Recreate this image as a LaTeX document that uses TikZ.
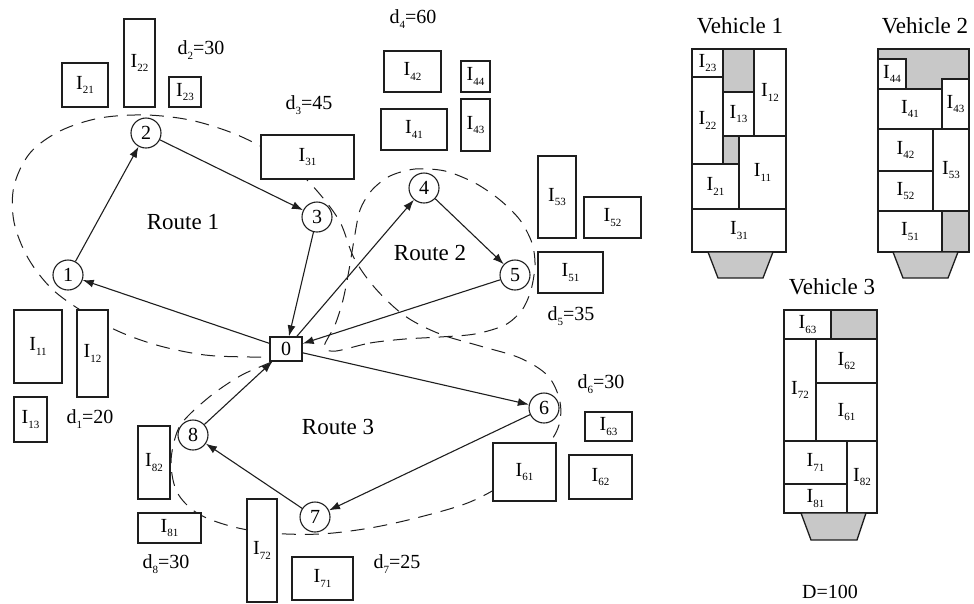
\documentclass[tikz,border=0pt]{standalone}
\usepackage{fontspec}
\setmainfont{Liberation Serif}
\usetikzlibrary{arrows.meta, fit}
\definecolor{cargo}{RGB}{200,200,200}
\definecolor{ink}{RGB}{30,30,30}
\newcommand{\itm}[1]{I\raisebox{-0.5ex}{\fontsize{11}{11}\selectfont #1}}
\newcommand{\dem}[2]{d\raisebox{-0.5ex}{\fontsize{11}{11}\selectfont #1}=#2}
\tikzset{
  cust/.style={circle, draw=ink, line width=1.1pt, fill=white, minimum size=30pt,
               inner sep=0pt, font=\fontsize{20}{20}\selectfont},
  depot/.style={rectangle, draw=ink, line width=1.3pt, fill=white, minimum width=32pt,
                minimum height=24pt, inner sep=0pt, font=\fontsize{20}{20}\selectfont},
  item/.style={rectangle, draw=ink, line width=1.3pt, fill=white, inner sep=0pt},
  every label/.style={font=\fontsize{20}{20}\selectfont, inner sep=0pt},
  arrow/.style={-{Latex[length=11pt,width=8pt]}, line width=1.1pt, color=ink},
  route/.style={draw=ink, line width=1pt, dash pattern=on 14pt off 9pt},
  title/.style={font=\fontsize{23}{23}\selectfont},
  demand/.style={font=\fontsize{20}{20}\selectfont},
}

\begin{document}
\begin{tikzpicture}[x=1pt, y=-1pt]
  \useasboundingbox (0,0) rectangle (974,603);

  % route outlines
  \draw[route] plot[smooth, tension=0.55] coordinates {(284,357) (250,357) (205,355) (160,346)
    (120,332) (85,313) (52,289) (28,258) (14,222) (14,186) (30,153) (60,131) (100,118) (146,115)
    (190,120) (230,132) (262,147) (292,166) (318,192) (340,222) (354,258) (375,288) (405,316)
    (440,334) (480,346) (520,358) (548,376) (560,402) (558,428) (540,455) (510,480) (470,502)
    (420,517) (370,528) (320,534) (270,533) (230,526) (197,513) (177,492) (171,462) (177,432)
    (188,416) (213,394) (240,376) (262,366) (284,357)};
  \draw[route] plot[smooth cycle, tension=0.5] coordinates {(336,351) (370,343) (405,339)
    (440,337) (475,334) (505,325) (522,310) (531,290) (535,265) (532,243) (520,220) (500,200)
    (475,183) (445,171) (415,169) (390,176) (372,190) (360,210) (354,240) (349,270) (343,300)
    (335,325) (324,347)};

  % items waiting at the customers
  \node[item, fit={(62,63) (108,107)}, label=center:\itm{21}] (i21) {};
  \node[item, fit={(124,19) (155,107)}, label=center:\itm{22}] (i22) {};
  \node[item, fit={(169,77) (201,107)}, label=center:\itm{23}] (i23) {};
  \node[item, fit={(261,135) (354,179)}, label=center:\itm{31}] (i31) {};
  \node[item, fit={(384,51) (441,92)}, label=center:\itm{42}] (i42) {};
  \node[item, fit={(461,61) (490,92)}, label=center:\itm{44}] (i44) {};
  \node[item, fit={(381,109) (447,150)}, label=center:\itm{41}] (i41) {};
  \node[item, fit={(461,99) (490,151)}, label=center:\itm{43}] (i43) {};
  \node[item, fit={(538,156) (576,238)}, label=center:\itm{53}] (i53) {};
  \node[item, fit={(584,197) (641,238)}, label=center:\itm{52}] (i52) {};
  \node[item, fit={(538,252) (603,293)}, label=center:\itm{51}] (i51) {};
  \node[item, fit={(14,310) (62,383)}, label=center:\itm{11}] (i11) {};
  \node[item, fit={(77,310) (108,397)}, label=center:\itm{12}] (i12) {};
  \node[item, fit={(14,397) (47,442)}, label=center:\itm{13}] (i13) {};
  \node[item, fit={(585,412) (632,441)}, label=center:\itm{63}] (i63) {};
  \node[item, fit={(493,443) (556,501)}, label=center:\itm{61}] (i61) {};
  \node[item, fit={(569,455) (632,499)}, label=center:\itm{62}] (i62) {};
  \node[item, fit={(138,426) (170,499)}, label=center:\itm{82}] (i82) {};
  \node[item, fit={(138,513) (201,543)}, label=center:\itm{81}] (i81) {};
  \node[item, fit={(247,499) (277,602)}, label=center:\itm{72}] (i72) {};
  \node[item, fit={(292,557) (353,600)}, label=center:\itm{71}] (i71) {};

  % demands
  \node[demand] (d1) at (90,419) {\dem{1}{20}};
  \node[demand] (d2) at (201,50) {\dem{2}{30}};
  \node[demand] (d3) at (309,105) {\dem{3}{45}};
  \node[demand] (d4) at (413,19) {\dem{4}{60}};
  \node[demand] (d5) at (571,316) {\dem{5}{35}};
  \node[demand] (d6) at (601,384) {\dem{6}{30}};
  \node[demand] (d7) at (397,564) {\dem{7}{25}};
  \node[demand] (d8) at (166,564) {\dem{8}{30}};

  % depot and customers
  \node[depot] (n0) at (286,349) {0};
  \node[cust] (n1) at (68,275) {1};
  \node[cust] (n2) at (146,133) {2};
  \node[cust] (n3) at (317,217) {3};
  \node[cust] (n4) at (424,188) {4};
  \node[cust] (n5) at (515,275) {5};
  \node[cust] (n6) at (544,408) {6};
  \node[cust] (n7) at (315,517) {7};
  \node[cust] (n8) at (193,435) {8};

  \node[title] (r1) at (183,222) {Route 1};
  \node[title] (r2) at (430,253) {Route 2};
  \node[title] (r3) at (338,427) {Route 3};

  \draw[arrow] (n0) -- (n1);
  \draw[arrow] (n1) -- (n2);
  \draw[arrow] (n2) -- (n3);
  \draw[arrow] (n3) -- (n0);
  \draw[arrow] (n0) -- (n4);
  \draw[arrow] (n4) -- (n5);
  \draw[arrow] (n5) -- (n0);
  \draw[arrow] (n0) -- (n6);
  \draw[arrow] (n6) -- (n7);
  \draw[arrow] (n7) -- (n8);
  \draw[arrow] (n8) -- (n0);

  % vehicle 1
  \node[title] (v1) at (740,26) {Vehicle 1};
  \fill[cargo] (692,49) rectangle (786,252);
  \node[item, fit={(692,49) (723,77)}, label=center:\itm{23}] (v1i23) {};
  \node[item, fit={(754,49) (786,136)}, label=center:\itm{12}] (v1i12) {};
  \node[item, fit={(692,77) (723,164)}, label=center:\itm{22}] (v1i22) {};
  \node[item, fit={(723,92) (754,136)}, label=center:\itm{13}] (v1i13) {};
  \node[item, fit={(739,136) (786,209)}, label=center:\itm{11}] (v1i11) {};
  \node[item, fit={(692,164) (739,209)}, label=center:\itm{21}] (v1i21) {};
  \node[item, fit={(692,209) (786,252)}, label=center:\itm{31}] (v1i31) {};
  \draw[ink, line width=1.5pt] (692,49) rectangle (786,252);
  \filldraw[fill=cargo, draw=ink, line width=1.3pt] (708,252) -- (773,252) -- (763,278) -- (718,278) -- cycle;

  % vehicle 2
  \node[title] (v2) at (925,26) {Vehicle 2};
  \fill[cargo] (878,49) rectangle (969,252);
  \node[item, fit={(878,59) (906,89)}, label=center:\itm{44}] (v2i44) {};
  \node[item, fit={(942,79) (969,129)}, label=center:\itm{43}] (v2i43) {};
  \node[item, fit={(878,89) (942,129)}, label=center:\itm{41}] (v2i41) {};
  \node[item, fit={(878,129) (933,171)}, label=center:\itm{42}] (v2i42) {};
  \node[item, fit={(933,129) (969,211)}, label=center:\itm{53}] (v2i53) {};
  \node[item, fit={(878,171) (933,211)}, label=center:\itm{52}] (v2i52) {};
  \node[item, fit={(878,211) (942,252)}, label=center:\itm{51}] (v2i51) {};
  \draw[ink, line width=1.5pt] (878,49) rectangle (969,252);
  \filldraw[fill=cargo, draw=ink, line width=1.3pt] (893,252) -- (958,252) -- (948,278) -- (903,278) -- cycle;

  % vehicle 3
  \node[title] (v3) at (832,287) {Vehicle 3};
  \fill[cargo] (784,310) rectangle (877,513);
  \node[item, fit={(784,310) (831,339)}, label=center:\itm{63}] (v3i63) {};
  \node[item, fit={(784,339) (816,441)}, label=center:\itm{72}] (v3i72) {};
  \node[item, fit={(816,339) (877,383)}, label=center:\itm{62}] (v3i62) {};
  \node[item, fit={(816,383) (877,441)}, label=center:\itm{61}] (v3i61) {};
  \node[item, fit={(784,441) (847,484)}, label=center:\itm{71}] (v3i71) {};
  \node[item, fit={(847,441) (877,513)}, label=center:\itm{82}] (v3i82) {};
  \node[item, fit={(784,484) (847,513)}, label=center:\itm{81}] (v3i81) {};
  \draw[ink, line width=1.5pt] (784,310) rectangle (877,513);
  \filldraw[fill=cargo, draw=ink, line width=1.3pt] (801,513) -- (866,513) -- (857,540) -- (811,540) -- cycle;

  \node[demand] (cap) at (830,592) {D=100};
\end{tikzpicture}
\end{document}
